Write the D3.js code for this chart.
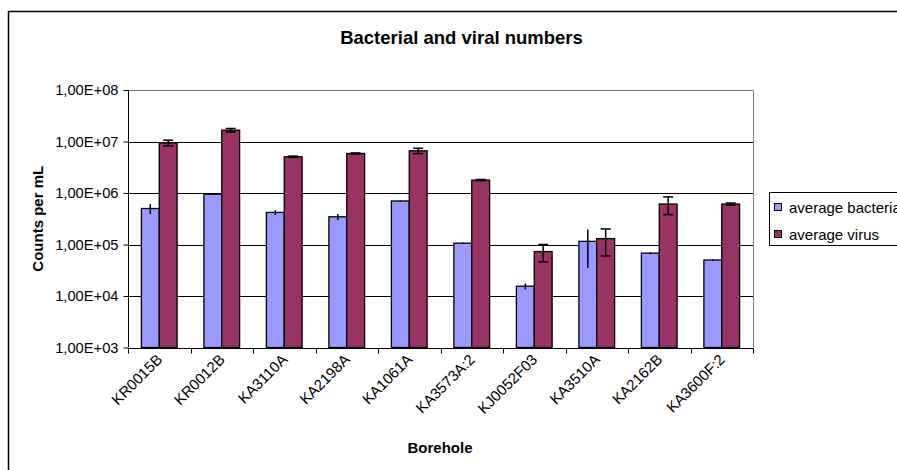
<!DOCTYPE html>
<html>
<head>
<meta charset="utf-8">
<script src="https://cdn.jsdelivr.net/npm/d3@7/dist/d3.min.js"></script>
<style>
  html, body { margin: 0; padding: 0; background: #fff; overflow: hidden; }
  svg { display: block; font-family: "Liberation Sans", Arial, sans-serif; }
</style>
</head>
<body>
<svg id="chart" width="897" height="470"></svg>
<script>
// Boreholes sampled
const categories = ["KR0015B", "KR0012B", "KA3110A", "KA2198A", "KA1061A",
                    "KA3573A:2", "KJ0052F03", "KA3510A", "KA2162B", "KA3600F:2"];
// Average counts per mL and their error values
const bacteria    = [5.0e5, 9.5e5, 4.2e5, 3.45e5, 7.0e5, 1.06e5, 1.55e4, 1.15e5, 6.8e4, 5.0e4];
const bacteriaErr = [1.1e5, 3.0e4, 4.5e4, 4.5e4, 2.0e4, 3.0e3, 2.0e3, 8.0e4, 3.0e3, 1.5e3];
const virus       = [9.4e6, 1.66e7, 5.05e6, 5.85e6, 6.6e6, 1.78e6, 7.3e4, 1.3e5, 6.1e5, 6.1e5];
const virusErr    = [1.2e6, 1.3e6, 1.5e5, 1.5e5, 8.0e5, 5.0e4, 2.7e4, 7.0e4, 2.3e5, 3.0e4];
const seriesNames = ["average bacteria", "average virus"];
const seriesColors = ["#9999FF", "#993366"];
const yTicks = [1e3, 1e4, 1e5, 1e6, 1e7, 1e8];
const yTickLabels = ["1,00E+03", "1,00E+04", "1,00E+05", "1,00E+06", "1,00E+07", "1,00E+08"];

const svg = d3.select("#chart");

// Outer chart frame (top and left edges fall inside the view)
svg.append("path")
  .attr("d", "M8.5,470V11.5H897")
  .attr("fill", "none").attr("stroke", "#000").attr("stroke-width", 1.5);

const plot = { left: 128, right: 753, top: 90, bottom: 347.5 };

const x = d3.scaleBand().domain(categories).range([plot.left, plot.right]).padding(0);
const xs = d3.scaleBand().domain([0, 1]).range([0, x.bandwidth()])
  .paddingInner(0).paddingOuter(0.75);
const y = d3.scaleLog().domain([1e3, 1e8]).range([plot.bottom, plot.top]);

// Title
svg.append("text")
  .attr("x", 461.5).attr("y", 43.5)
  .attr("text-anchor", "middle")
  .attr("font-weight", "bold").attr("font-size", 18.5)
  .text("Bacterial and viral numbers");

// Gridlines
svg.append("g").selectAll("line")
  .data(yTicks.slice(0, -1))
  .join("line")
  .attr("x1", plot.left).attr("x2", plot.right)
  .attr("y1", d => Math.round(y(d)) + 0.5).attr("y2", d => Math.round(y(d)) + 0.5)
  .attr("stroke", "#000").attr("stroke-width", 1);

// Plot area border (top and right)
svg.append("path")
  .attr("d", `M${plot.left},${Math.round(y(1e8)) + 0.5}H${plot.right + 0.5}V${plot.bottom}`)
  .attr("fill", "none").attr("stroke", "#808080").attr("stroke-width", 1);

// Bars
const series = [
  { vals: bacteria, err: bacteriaErr, caps: false },
  { vals: virus, err: virusErr, caps: true }
];
series.forEach((s, si) => {
  const g = svg.append("g");
  g.selectAll("rect")
    .data(categories)
    .join("rect")
    .attr("x", (c) => x(c) + xs(si))
    .attr("y", (c, i) => y(s.vals[i]))
    .attr("width", xs.bandwidth())
    .attr("height", (c, i) => y(1e3) - y(s.vals[i]))
    .attr("fill", seriesColors[si])
    .attr("stroke", "#000").attr("stroke-width", 1.3);
});

// Error bars
series.forEach((s, si) => {
  const g = svg.append("g").attr("stroke", "#000").attr("stroke-width", 1.5);
  categories.forEach((c, i) => {
    const cx = x(c) + xs(si) + xs.bandwidth() / 2;
    const hi = y(s.vals[i] + s.err[i]);
    const lo = y(Math.max(s.vals[i] - s.err[i], 1e3));
    g.append("line").attr("x1", cx).attr("x2", cx).attr("y1", hi).attr("y2", lo);
    if (s.caps) {
      [hi, lo].forEach(yy => {
        g.append("line").attr("x1", cx - 5).attr("x2", cx + 5).attr("y1", yy).attr("y2", yy);
      });
    }
  });
});

// Y axis
const yAxis = d3.axisLeft(y).tickValues(yTicks)
  .tickFormat((d, i) => yTickLabels[i]).tickSize(5).tickPadding(5);
const yg = svg.append("g").attr("transform", `translate(${plot.left + 0.5},0)`).call(yAxis);
yg.select(".domain").attr("stroke", "#000").attr("d", `M0,${plot.top}V${plot.bottom}`);
yg.selectAll(".tick line").attr("stroke", "#000");
yg.selectAll(".tick text").attr("font-size", 14.7).attr("fill", "#000")
  .attr("font-family", "Liberation Sans, Arial, sans-serif");

// X axis: ticks at category boundaries
const xg = svg.append("g").attr("transform", `translate(0,${Math.round(plot.bottom) + 0.5})`);
xg.append("line").attr("x1", plot.left).attr("x2", plot.right + 0.5)
  .attr("y1", 0).attr("y2", 0).attr("stroke", "#000");
const bounds = categories.map(c => x(c)).concat([plot.right]);
xg.selectAll("line.tick").data(bounds).join("line")
  .attr("class", "tick")
  .attr("x1", d => Math.round(d) + 0.5).attr("x2", d => Math.round(d) + 0.5)
  .attr("y1", 0).attr("y2", 5).attr("stroke", "#000");
xg.selectAll("text").data(categories).join("text")
  .attr("transform", c => `translate(${x(c) + x.bandwidth() / 2 + 4},${12}) rotate(-45)`)
  .attr("text-anchor", "end")
  .attr("font-size", 15)
  .text(c => c);

// Axis titles
svg.append("text")
  .attr("x", 440).attr("y", 452.5)
  .attr("text-anchor", "middle").attr("font-weight", "bold").attr("font-size", 15)
  .text("Borehole");
svg.append("text")
  .attr("transform", `translate(43,${(plot.top + plot.bottom) / 2}) rotate(-90)`)
  .attr("text-anchor", "middle").attr("font-weight", "bold").attr("font-size", 15)
  .text("Counts per mL");

// Legend
const lg = svg.append("g");
lg.append("rect").attr("x", 769.5).attr("y", 192.5).attr("width", 200).attr("height", 53)
  .attr("fill", "#fff").attr("stroke", "#000").attr("stroke-width", 1);
seriesNames.forEach((name, i) => {
  const yy = 203 + i * 27;
  lg.append("rect").attr("x", 774.5).attr("y", yy + 0.5).attr("width", 7).attr("height", 7)
    .attr("fill", seriesColors[i]).attr("stroke", "#000").attr("stroke-width", 1);
  lg.append("text").attr("x", 789).attr("y", yy + 9.5).attr("font-size", 15).text(name);
});
</script>
</body>
</html>
